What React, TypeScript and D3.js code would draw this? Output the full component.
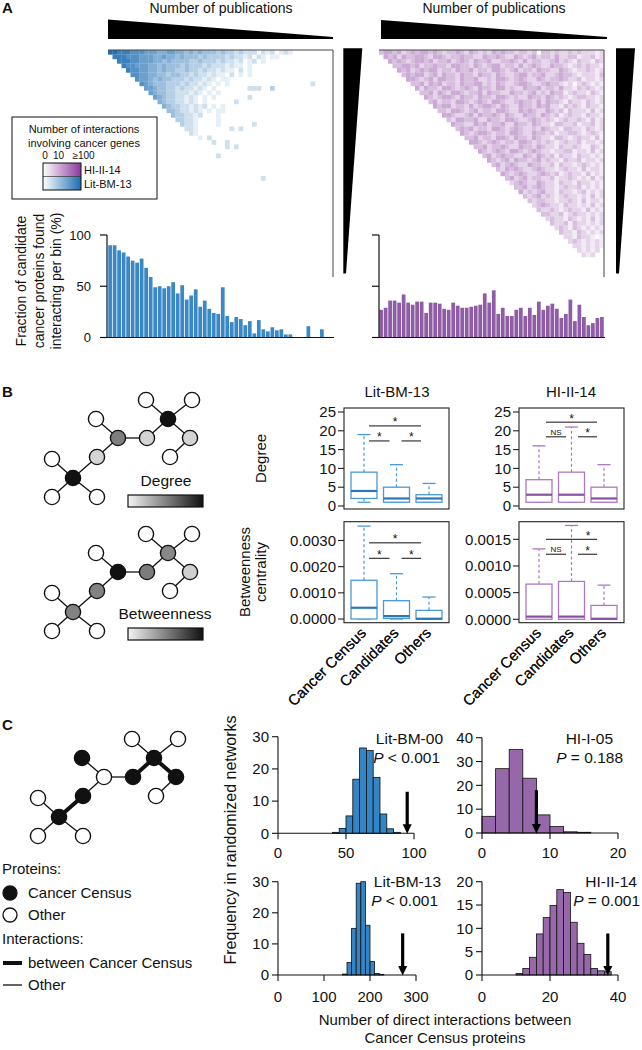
import React from "react";
import * as d3 from "d3";

const FONT = "'Liberation Sans', Arial, Helvetica, sans-serif";

// ---------------- Panel A data ----------------
const litFraction = [90, 90, 85, 83, 79, 75, 73, 77, 68, 59, 49, 50, 48, 50, 54, 43, 51, 37, 41, 47, 30, 36, 28, 24, 23, 49, 21, 15, 20, 18, 12, 16, 4, 17, 8, 6, 10, 7, 8, 3, 3, 0, 0, 0, 11, 0, 0, 8, 0, 0];
const hiFraction = [27, 29, 36, 36, 34, 42, 34, 32, 35, 35, 24, 34, 34, 33, 28, 27, 34, 31, 29, 29, 30, 31, 32, 43, 34, 46, 23, 29, 21, 21, 27, 29, 21, 29, 22, 35, 27, 31, 33, 28, 19, 23, 37, 16, 32, 20, 12, 14, 19, 20];
const fractionTicks = [0, 50, 100];

// heatmap rows: row r starts at column r; digit = intensity (0 = empty)
const litHeatRows = [
  "99888777666556655454544434332322202120121",
  "8887776665565545444343333232212021011",
  "888776665545444433433323221201201",
  "87766655454443433323222121101",
  "8776655454433433232212110201",
  "776655443443323221211020101",
  "76654544333232212101100",
  "765444333232212101010000000000000000002",
  "665443323221210100000002220030",
  "65443322212101010",
  "6543322121010100000002",
  "543322121010000002",
  "54332212120101",
  "4432212101011",
  "433221200010",
  "3322100001",
  "32210000100000002",
  "22100000002020",
  "21000",
  "0102",
  "0002002",
  "000002020",
  "",
  "02",
  "",
  "",
  "",
  "",
  "0000002",
];

const hiHeatRows = [
  "34434234344343233432432324343323323033232232322212",
  "4342433443244323343322433432243234233242233122312",
  "434323443423342343243342233432423322342321322132",
  "33443423343324433243234423324234322433212323221",
  "4342343442332433423324432342332433224321223212",
  "343442342433243324332432234423342234332122213",
  "44323424433243342232443234322432334322312212",
  "3342434233243344232432234432234332120232121",
  "424332443234324332442322433423324221323212",
  "33424324432334243322433234232433123221321",
  "4323443243324332443232243324323212332212",
  "342332443234324432234332424332132213212",
  "43442332423443243224332434221323213221",
  "3324432342332443224343224323132221312",
  "443223424334324322433243231232213221",
  "32443342243324432234323212322321312",
  "4332243423342243324322133223122312",
  "343423324432343223243221332213212",
  "43234432332443224332312233212321",
  "3342332443243324322133212322131",
  "443234323324432323212322312212",
  "33423343224332432213223211321",
  "4323432443234322122331221312",
  "342343322432432313221322121",
  "43234243323423221322312212",
  "3423432243322313221232121",
  "324343223432212322131221",
  "43234322343231232213121",
  "3423423322312232121312",
  "234322432213221322121",
  "33423432212322312121",
  "4232342213221231212",
  "323423212322121312",
  "32332212232131221",
  "2343221322121312",
  "322321232213121",
  "33223123221212",
  "2322132121312",
  "322313221212",
  "23213212121",
  "3221321212",
  "221322101",
  "23212121",
  "2212121",
  "212120",
  "21200",
];

// ---------------- Panel B data ----------------
const groups = ["Cancer Census", "Candidates", "Others"];
// [lower whisker, q1, median, q3, upper whisker]
const litDegree = [[1, 2, 4, 9, 19], [1, 1, 2, 5, 11], [1, 1, 2, 3, 6]];
const hiDegree = [[1, 1, 3, 7, 16], [1, 1, 3, 9, 21], [1, 1, 2, 5, 11]];
const litBetween = [[0, 0, 0.00043, 0.00148, 0.00355], [0, 0.00002, 0.00011, 0.0007, 0.00173], [0, 0, 0.00001, 0.00033, 0.00084]];
const hiBetween = [[0, 0, 0.00005, 0.00066, 0.00132], [0, 0, 0.00005, 0.00071, 0.00176], [0, 0, 0.00001, 0.00026, 0.00064]];
const degreeTicks = [0, 5, 10, 15, 20, 25];
const litBetweenTicks = [0, 0.001, 0.002, 0.003];
const hiBetweenTicks = [0, 0.0005, 0.001, 0.0015];

// ---------------- Panel C data ----------------
const litBM00Counts = [0.3, 1.5, 5.4, 16.8, 26.5, 25.7, 17.3, 6, 1.4, 0.3]; // bins of 5 from 40
const hiI05Counts = [7, 27, 35, 23, 7.6, 2.7, 0.5, 0.3]; // bins of 2 from 0
const litBM13Counts = [0.3, 4, 15, 29.5, 30, 16, 4.3, 0.5, 0.2]; // bins of 10 from 140
const hiII14Counts = [0.3, 1.4, 3.8, 8.8, 12.3, 14.9, 18.3, 17.7, 11.3, 6.8, 4.4, 1.4, 0.9, 0.7]; // bins of 2 from 10
const observedValues = [95, 8, 271, 37];

// ---------------- colours ----------------
const BLUE_BAR = "#3a88c5";
const PURPLE_BAR = "#8f5ca6";
const BLUE_HEAT = "#2270b3";
const PURPLE_HEAT = "#8a3f9f";
const BLUE_BOX = "#4a99d6";
const BLUE_MED = "#2a78b8";
const PURPLE_BOX = "#ad78c2";
const PURPLE_MED = "#8a4fa2";
const BLUE_HIST = "#3385c5";
const PURPLE_HIST = "#9668a9";

// ---------------- network layout ----------------
const netNodes: [number, number][] = [
  [52, 459], [52, 497], [97, 497], [73, 478], [97, 457], [118, 438], [96, 419],
  [147, 438], [168, 419], [146, 400], [192, 400], [190, 438], [170, 457],
];
const netEdges: [number, number][] = [
  [3, 0], [3, 1], [3, 2], [3, 4], [4, 5], [5, 6], [5, 7], [7, 8], [8, 9], [8, 10], [8, 11], [11, 12],
];
const W_ = "#ffffff", K_ = "#111111";
const degreeFills = [W_, W_, W_, K_, "#d4d4d4", "#7e7e7e", W_, "#d4d4d4", K_, W_, W_, "#d4d4d4", W_];
const betweenFills = [W_, W_, W_, "#828282", "#828282", K_, W_, "#7c7c7c", "#888888", W_, W_, "#d0d0d0", W_];
const censusFills = [W_, W_, W_, K_, K_, W_, K_, K_, K_, W_, W_, K_, W_];

function Network({ dx, dy, fills, thick }: any) {
  return (
    <g>
      {netEdges.map(([a, b], i) => {
        const isThick = thick && fills[a] === K_ && fills[b] === K_;
        return (
          <line key={i} x1={netNodes[a][0] + dx} y1={netNodes[a][1] + dy} x2={netNodes[b][0] + dx} y2={netNodes[b][1] + dy}
            stroke="#111" strokeWidth={isThick ? 4 : 1.3} />
        );
      })}
      {netNodes.map(([x, y], i) => (
        <circle key={i} cx={x + dx} cy={y + dy} r={7.6} fill={fills[i]} stroke="#111" strokeWidth={1.4} />
      ))}
    </g>
  );
}

function Heatmap({ rows, x0, y0, color }: any) {
  const n = 50;
  const x = d3.scaleBand<number>().domain(d3.range(n)).range([x0, x0 + 225]);
  const y = d3.scaleBand<number>().domain(d3.range(n)).range([y0, y0 + 225]);
  const c = d3.scaleLinear<string>().domain([0, 9]).range(["#ffffff", color]).interpolate(d3.interpolateRgb);
  const cells: any[] = [];
  rows.forEach((s: string, r: number) => {
    for (let k = 0; k < s.length; k++) {
      const col = r + k;
      const v = +s[k];
      if (col < n && v > 0) cells.push({ r, col, v });
    }
  });
  return (
    <g>
      {cells.map((d) => (
        <rect key={d.r + "-" + d.col} x={x(d.col)} y={y(d.r)} width={x.bandwidth() + 0.2} height={y.bandwidth() + 0.2} fill={c(d.v)} />
      ))}
      <line x1={x0} x2={x0 + 225} y1={y0} y2={y0} stroke="#444" strokeWidth={1} />
      <line x1={x0 + 225} x2={x0 + 225} y1={y0} y2={y0 + 227} stroke="#444" strokeWidth={1} />
    </g>
  );
}

function FractionBars({ values, x0, color, labels, axisX, baseX0 }: any) {
  const x = d3.scaleBand<number>().domain(d3.range(values.length)).range([x0, x0 + 225]).paddingInner(0.17).paddingOuter(0.05);
  const y = d3.scaleLinear().domain([0, 100]).range([337.5, 235]);
  return (
    <g>
      {values.map((v: number, i: number) => (
        <rect key={i} x={x(i)} y={y(v)} width={x.bandwidth()} height={y(0) - y(v)} fill={color} />
      ))}
      <line x1={axisX} x2={axisX} y1={y(0)} y2={y(100)} stroke="#111" strokeWidth={1.2} />
      {fractionTicks.map((t) => (
        <g key={t}>
          <line x1={axisX - 7} x2={axisX} y1={y(t)} y2={y(t)} stroke="#111" strokeWidth={1.2} />
          {labels && (
            <text x={axisX - 16} y={y(t) + 4.7} textAnchor="end" fontSize={13}>{t}</text>
          )}
        </g>
      ))}
      <line x1={baseX0} x2={x0 + 226} y1={y(0)} y2={y(0)} stroke="#111" strokeWidth={1.2} />
    </g>
  );
}

function BoxPanel({ frame, yDom, yRange, ticks, fmt, stats, centers, stroke, med, sig }: any) {
  const [fx0, fy0, fx1, fy1] = frame;
  const y = d3.scaleLinear().domain(yDom).range(yRange);
  const cx = d3.scalePoint<string>().domain(groups).range(centers);
  const bw = 26;
  return (
    <g>
      <rect x={fx0} y={fy0} width={fx1 - fx0} height={fy1 - fy0} fill="none" stroke="#222" strokeWidth={1.1} />
      {ticks.map((t: number) => (
        <g key={t}>
          <line x1={fx0 - 6} x2={fx0} y1={y(t)} y2={y(t)} stroke="#222" strokeWidth={1.1} />
          <text x={fx0 - 8} y={y(t) + 5.2} textAnchor="end" fontSize={15}>{fmt(t)}</text>
        </g>
      ))}
      {stats.map((s: number[], i: number) => {
        const c = cx(groups[i]) as number;
        const [lo, q1, m, q3, hi] = s;
        return (
          <g key={i}>
            <line x1={c} x2={c} y1={y(q3)} y2={y(hi)} stroke={stroke} strokeWidth={1.2} strokeDasharray="3,2.5" />
            <line x1={c - 6.5} x2={c + 6.5} y1={y(hi)} y2={y(hi)} stroke={stroke} strokeWidth={1.3} />
            {lo < q1 && <line x1={c} x2={c} y1={y(q1)} y2={y(lo)} stroke={stroke} strokeWidth={1.2} strokeDasharray="3,2.5" />}
            <line x1={c - 6.5} x2={c + 6.5} y1={y(lo)} y2={y(lo)} stroke={stroke} strokeWidth={1.3} />
            <rect x={c - bw / 2} y={y(q3)} width={bw} height={y(q1) - y(q3)} fill="white" stroke={stroke} strokeWidth={1.3} />
            <line x1={c - bw / 2} x2={c + bw / 2} y1={y(m)} y2={y(m)} stroke={med} strokeWidth={2.2} />
          </g>
        );
      })}
      {sig.map((g: any, i: number) => {
        const x1 = (cx(groups[g[0]]) as number) + g[1];
        const x2 = (cx(groups[g[2]]) as number) + g[3];
        const yy = y(g[4]);
        const lx = g[6] !== undefined ? g[6] : (x1 + x2) / 2;
        return (
          <g key={i}>
            <line x1={x1} x2={x2} y1={yy} y2={yy} stroke="#111" strokeWidth={1} />
            {g[5] === "*" ? (
              <text x={lx} y={yy + 0.5} textAnchor="middle" fontSize={12}>*</text>
            ) : (
              <text x={lx} y={yy - 2} textAnchor="middle" fontSize={8}>{g[5]}</text>
            )}
          </g>
        );
      })}
      {groups.map((g) => (
        <text key={g} transform={`translate(${(cx(g) as number) + 3},${634}) rotate(-45)`} textAnchor="end" fontSize={15}>{g}</text>
      ))}
    </g>
  );
}

function Hist({ counts, start, step, xDom, xRange, yDom, yRange, xTicks, yTicks, color, observed, arrowTop, name, pRel, pVal, nameRight, pRight, nameBase, xLabBase }: any) {
  const x = d3.scaleLinear().domain(xDom).range(xRange);
  const y = d3.scaleLinear().domain(yDom).range(yRange);
  const y0 = y(0);
  const ax = x(observed);
  return (
    <g>
      {counts.map((c: number, i: number) => (
        <rect key={i} x={x(start + i * step)} y={y(c)} width={x(start + (i + 1) * step) - x(start + i * step)} height={y0 - y(c)}
          fill={color} stroke="#111" strokeWidth={0.8} />
      ))}
      <line x1={x(xDom[0])} x2={x(xDom[0])} y1={y0} y2={y(yTicks[yTicks.length - 1])} stroke="#111" strokeWidth={1.1} />
      {yTicks.map((t: number) => (
        <g key={t}>
          <line x1={x(xDom[0]) - 6} x2={x(xDom[0])} y1={y(t)} y2={y(t)} stroke="#111" strokeWidth={1.1} />
          <text x={x(xDom[0]) - 9} y={y(t) + 5.3} textAnchor="end" fontSize={15}>{t}</text>
        </g>
      ))}
      <line x1={x(xTicks[0])} x2={x(xTicks[xTicks.length - 1])} y1={y0} y2={y0} stroke="#111" strokeWidth={1.1} />
      {xTicks.map((t: number) => (
        <g key={t}>
          <line x1={x(t)} x2={x(t)} y1={y0} y2={y0 + 6} stroke="#111" strokeWidth={1.1} />
          <text x={x(t)} y={xLabBase} textAnchor="middle" fontSize={15}>{t}</text>
        </g>
      ))}
      <line x1={ax} x2={ax} y1={y(arrowTop)} y2={y0 - 7} stroke="#000" strokeWidth={3.2} />
      <polygon points={`${ax - 4.5},${y0 - 9} ${ax + 4.5},${y0 - 9} ${ax},${y0 + 0.5}`} fill="#000" />
      <text x={nameRight} y={nameBase} textAnchor="end" fontSize={15.5}>{name}</text>
      <text x={pRight} y={nameBase + 19} textAnchor="end" fontSize={15.5}>
        <tspan fontStyle="italic">P</tspan>{` ${pRel} ${pVal}`}
      </text>
    </g>
  );
}

export default function App() {
  return (
    <svg width={642} height={1050} viewBox="0 0 642 1050" style={{ position: "absolute", left: 0, top: 0, background: "white" }}
      fontFamily={FONT} fill="#111">
      <defs>
        <linearGradient id="gPurple" x1="0" x2="1" y1="0" y2="0">
          <stop offset="0" stopColor="#ffffff" />
          <stop offset="1" stopColor="#8a3a9c" />
        </linearGradient>
        <linearGradient id="gBlue" x1="0" x2="1" y1="0" y2="0">
          <stop offset="0" stopColor="#ffffff" />
          <stop offset="1" stopColor="#1b6db2" />
        </linearGradient>
        <linearGradient id="gGray" x1="0" x2="1" y1="0" y2="0">
          <stop offset="0" stopColor="#f4f4f4" />
          <stop offset="1" stopColor="#111111" />
        </linearGradient>
      </defs>
      <rect x={0} y={0} width={642} height={1050} fill="white" />

      {/* ================= Panel A ================= */}
      <text x={2} y={13} fontSize={15} fontWeight="bold">A</text>
      <text x={221} y={13} textAnchor="middle" fontSize={14}>Number of publications</text>
      <text x={494} y={13} textAnchor="middle" fontSize={14}>Number of publications</text>
      <polygon points="108,19.5 333,37 333,39 108,39" fill="#000" />
      <polygon points="381,20 607,37 607,39 381,39" fill="#000" />
      <polygon points="343.3,48.3 362.3,48.3 346,273.5 343.3,273.5" fill="#000" />
      <polygon points="616,48.3 635,48.3 619,273.5 616,273.5" fill="#000" />

      <Heatmap rows={litHeatRows} x0={108} y0={50} color={BLUE_HEAT} />
      <Heatmap rows={hiHeatRows} x0={379} y0={50} color={PURPLE_HEAT} />

      {/* legend */}
      <rect x={12} y={117} width={145} height={82} fill="white" stroke="#111" strokeWidth={1} />
      <text x={84} y={133} textAnchor="middle" fontSize={11}>Number of interactions</text>
      <text x={84} y={146.5} textAnchor="middle" fontSize={11}>involving cancer genes</text>
      <text x={45} y={159} textAnchor="middle" fontSize={10}>0</text>
      <text x={58.5} y={159} textAnchor="middle" fontSize={10}>10</text>
      <text x={83.5} y={159} textAnchor="middle" fontSize={10}>≥100</text>
      <rect x={43} y={163} width={38} height={13.5} fill="url(#gPurple)" />
      <rect x={43} y={176.5} width={38} height={13.5} fill="url(#gBlue)" />
      <rect x={43} y={163} width={38} height={27} fill="none" stroke="#111" strokeWidth={1} />
      <line x1={43} x2={81} y1={176.5} y2={176.5} stroke="#111" strokeWidth={0.6} />
      <text x={84} y={174} fontSize={11}>HI-II-14</text>
      <text x={84} y={187.5} fontSize={11}>Lit-BM-13</text>

      <FractionBars values={litFraction} x0={108} color={BLUE_BAR} labels={true} axisX={107} baseX0={107} />
      <FractionBars values={hiFraction} x0={379} color={PURPLE_BAR} labels={false} axisX={379} baseX0={373} />
      <g transform="translate(0,281) rotate(-90)" fontSize={14}>
        <text x={0} y={26} textAnchor="middle">Fraction of candidate</text>
        <text x={0} y={43.5} textAnchor="middle">cancer proteins found</text>
        <text x={0} y={61} textAnchor="middle">interacting per bin (%)</text>
      </g>

      {/* ================= Panel B ================= */}
      <text x={2} y={397} fontSize={15} fontWeight="bold">B</text>
      <Network dx={0} dy={0} fills={degreeFills} thick={false} />
      <text x={166} y={486} textAnchor="middle" fontSize={15.5}>Degree</text>
      <rect x={128} y={495} width={75} height={12} fill="url(#gGray)" stroke="#111" strokeWidth={1.2} />
      <Network dx={0} dy={134} fills={betweenFills} thick={false} />
      <text x={165} y={619} textAnchor="middle" fontSize={15.5}>Betweenness</text>
      <rect x={128} y={628} width={75} height={12} fill="url(#gGray)" stroke="#111" strokeWidth={1.2} />

      <text x={397} y={397} textAnchor="middle" fontSize={15}>Lit-BM-13</text>
      <text x={571} y={397} textAnchor="middle" fontSize={15}>HI-II-14</text>
      <text transform="translate(266,458.5) rotate(-90)" textAnchor="middle" fontSize={15}>Degree</text>
      <text transform="translate(250,572) rotate(-90)" textAnchor="middle" fontSize={15}>Betweenness</text>
      <text transform="translate(266,572) rotate(-90)" textAnchor="middle" fontSize={15}>centrality</text>

      <BoxPanel frame={[344, 408, 449, 509]} yDom={[0, 25]} yRange={[506, 412]} ticks={degreeTicks} fmt={d3.format("d")}
        stats={litDegree} centers={[364, 429]} stroke={BLUE_BOX} med={BLUE_MED}
        sig={[[0, 5, 2, -8, 21.3, "*"], [0, 5, 1, -7, 17.3, "*"], [1, 5, 2, -8, 17.3, "*"]]} />
      <BoxPanel frame={[519, 408, 624, 509]} yDom={[0, 25]} yRange={[506, 412]} ticks={degreeTicks} fmt={d3.format("d")}
        stats={hiDegree} centers={[539, 604]} stroke={PURPLE_BOX} med={PURPLE_MED}
        sig={[[0, 7, 2, -7, 22.3, "*"], [0, 7, 1, -5.5, 18.4, "NS"], [1, 6.5, 2, -7, 18.4, "*"]]} />
      <BoxPanel frame={[344, 521.7, 449, 622.7]} yDom={[0, 0.003]} yRange={[619, 540.5]} ticks={litBetweenTicks} fmt={d3.format(".4f")}
        stats={litBetween} centers={[364, 429]} stroke={BLUE_BOX} med={BLUE_MED}
        sig={[[0, 5, 2, -8, 0.00291, "*"], [0, 5, 1, -7, 0.00232, "*"], [1, 5, 2, -8, 0.00232, "*"]]} />
      <BoxPanel frame={[519, 521.7, 624, 622.7]} yDom={[0, 0.0015]} yRange={[619.3, 539.3]} ticks={hiBetweenTicks} fmt={d3.format(".4f")}
        stats={hiBetween} centers={[539, 604]} stroke={PURPLE_BOX} med={PURPLE_MED}
        sig={[[0, 7, 2, -7, 0.0015, "*", 588], [0, 7, 1, -5.5, 0.00122, "NS"], [1, 6.5, 2, -7, 0.00122, "*"]]} />

      {/* ================= Panel C ================= */}
      <text x={2} y={730} fontSize={15} fontWeight="bold">C</text>
      <Network dx={-14} dy={339} fills={censusFills} thick={true} />
      <g fontSize={15}>
        <text x={2} y={874}>Proteins:</text>
        <circle cx={10} cy={893} r={7} fill="#111" stroke="#111" strokeWidth={1.3} />
        <text x={28} y={898}>Cancer Census</text>
        <circle cx={10} cy={915} r={7} fill="white" stroke="#111" strokeWidth={1.3} />
        <text x={28} y={920}>Other</text>
        <text x={2} y={944}>Interactions:</text>
        <line x1={3} x2={22} y1={963} y2={963} stroke="#111" strokeWidth={4} />
        <text x={28} y={968}>between Cancer Census</text>
        <line x1={3} x2={22} y1={985} y2={985} stroke="#111" strokeWidth={1.3} />
        <text x={28} y={990}>Other</text>
      </g>

      <Hist counts={litBM00Counts} start={40} step={5} xDom={[0, 100]} xRange={[278, 414]} yDom={[0, 30]} yRange={[833.3, 736.7]}
        xTicks={[0, 50, 100]} yTicks={[0, 10, 20, 30]} color={BLUE_HIST} observed={observedValues[0]} arrowTop={12.9}
        name="Lit-BM-00" pRel="<" pVal="0.001" nameRight={443} pRight={440} nameBase={744} xLabBase={858} />
      <Hist counts={hiI05Counts} start={0} step={2} xDom={[0, 20]} xRange={[482, 618]} yDom={[0, 40]} yRange={[833, 737.7]}
        xTicks={[0, 10, 20]} yTicks={[0, 10, 20, 30, 40]} color={PURPLE_HIST} observed={observedValues[1]} arrowTop={18}
        name="HI-I-05" pRel="=" pVal="0.188" nameRight={613} pRight={623} nameBase={744} xLabBase={858} />
      <Hist counts={litBM13Counts} start={140} step={10} xDom={[0, 300]} xRange={[278, 416]} yDom={[0, 30]} yRange={[975, 881.7]}
        xTicks={[0, 100, 200, 300]} yTicks={[0, 10, 20, 30]} color={BLUE_HIST} observed={observedValues[2]} arrowTop={13.4}
        name="Lit-BM-13" pRel="<" pVal="0.001" nameRight={441} pRight={438} nameBase={886.7} xLabBase={1002} />
      <Hist counts={hiII14Counts} start={10} step={2} xDom={[0, 40]} xRange={[482, 618]} yDom={[0, 20]} yRange={[975, 881.7]}
        xTicks={[0, 20, 40]} yTicks={[0, 5, 10, 15, 20]} color={PURPLE_HIST} observed={observedValues[3]} arrowTop={8.9}
        name="HI-II-14" pRel="=" pVal="0.001" nameRight={637} pRight={640} nameBase={886.7} xLabBase={1002} />

      <text transform="translate(236,840) rotate(-90)" textAnchor="middle" fontSize={16}>Frequency in randomized networks</text>
      <text x={445} y={1025} textAnchor="middle" fontSize={15}>Number of direct interactions between</text>
      <text x={445} y={1043} textAnchor="middle" fontSize={15}>Cancer Census proteins</text>
    </svg>
  );
}
